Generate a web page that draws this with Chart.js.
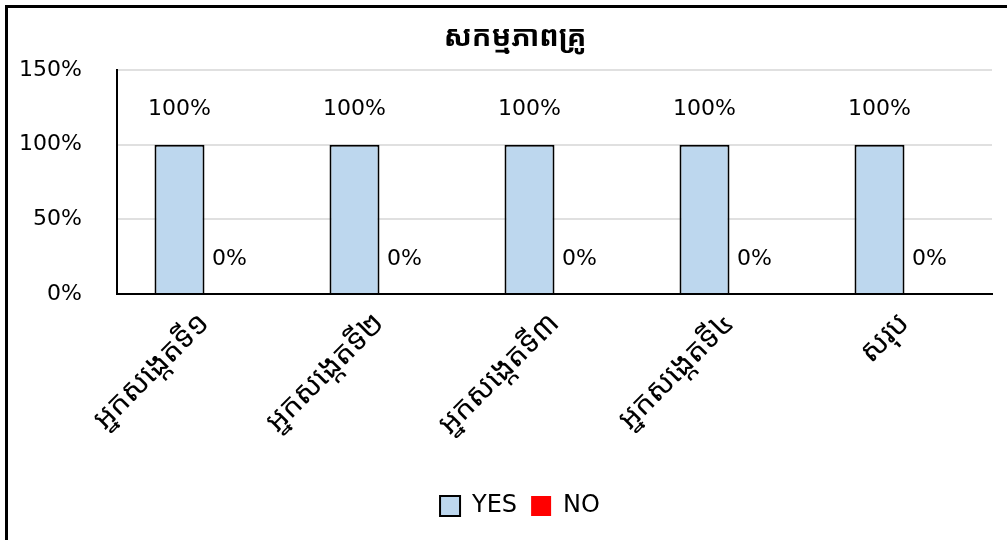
<!DOCTYPE html>
<html>
<head>
<meta charset="utf-8">
<script src="https://cdn.jsdelivr.net/npm/chart.js@4"></script>
<style>
  html, body { margin: 0; padding: 0; background: #fff; overflow: hidden; }
  #wrap { position: relative; width: 1007px; height: 540px; }
  #frame { position: absolute; left: 5px; top: 5px; width: 1100px; height: 700px;
           border-left: 3px solid #000; border-top: 3px solid #000; pointer-events: none; }
  canvas { position: absolute; left: 0; top: 0; }
</style>
</head>
<body>
<div id="wrap">
  <canvas id="chart" width="1007" height="540"></canvas>
  <div id="frame"></div>
</div>
<script>
const title = 'សកម្មភាពគ្រូ';
const categories = ['អ្នកសង្កេតទី១', 'អ្នកសង្កេតទី២', 'អ្នកសង្កេតទី៣', 'អ្នកសង្កេតទី៤', 'សរុប'];
const yesValues = [1, 1, 1, 1, 1];
const noValues = [0, 0, 0, 0, 0];
const yTicks = [0, 0.5, 1, 1.5];

const numFont = "'DejaVu Sans', 'Liberation Sans', sans-serif";
const khmerFont = "'Khmer OS', 'Noto Sans Khmer', 'Khmer UI', 'Leelawadee UI', 'DejaVu Sans', sans-serif";

const pct = v => Math.round(v * 100) + '%';

// title + value labels drawn on the canvas
const extras = {
  id: 'extras',
  afterLayout(chart) {
    // legend sits a bit right of the canvas centre
    chart.legend.left += 24;
    chart.legend.right += 24;
  },
  afterDatasetsDraw(chart) {
    const ctx = chart.ctx;
    ctx.save();
    ctx.fillStyle = '#000';
    ctx.textAlign = 'center';
    ctx.textBaseline = 'middle';
    ctx.font = '22px ' + numFont;
    chart.data.datasets.forEach((ds, i) => {
      chart.getDatasetMeta(i).data.forEach((bar, j) => {
        ctx.fillText(pct(ds.data[j]), bar.x, bar.y - 35);
      });
    });
    ctx.font = 'bold 29px ' + khmerFont;
    ctx.fillText(title, 515, 38);
    ctx.restore();
  }
};

new Chart(document.getElementById('chart'), {
  type: 'bar',
  data: {
    labels: categories,
    datasets: [
      { label: 'YES', data: yesValues, backgroundColor: '#BDD7EE', borderColor: '#000', borderWidth: 2 },
      { label: 'NO', data: noValues, backgroundColor: '#FF0000', borderColor: '#FF0000', borderWidth: 0 }
    ]
  },
  options: {
    responsive: false,
    animation: false,
    layout: { padding: { left: 0, right: 15, top: 70, bottom: 12 } },
    datasets: { bar: { categoryPercentage: 100 / 175, barPercentage: 1 } },
    plugins: {
      title: { display: false },
      tooltip: { enabled: false },
      legend: {
        position: 'bottom',
        labels: { color: '#000', font: { family: numFont, size: 24 }, boxWidth: 20, boxHeight: 20, padding: 14 }
      }
    },
    scales: {
      y: {
        min: 0, max: 1.5,
        afterBuildTicks: s => { s.ticks = yTicks.map(v => ({ value: v })); },
        afterFit: s => { s.width = 117; },
        ticks: { callback: v => pct(v), color: '#000', font: { family: numFont, size: 22 }, padding: 35 },
        grid: { color: '#e0e0e0', lineWidth: 2, drawTicks: false },
        border: { color: '#000', width: 2 }
      },
      x: {
        afterFit: s => { s.height = 186; },
        ticks: { color: '#000', font: { family: khmerFont, size: 30 }, minRotation: 45, maxRotation: 45, padding: 4 },
        grid: { display: false },
        border: { color: '#000', width: 2 }
      }
    }
  },
  plugins: [extras]
});
</script>
</body>
</html>
